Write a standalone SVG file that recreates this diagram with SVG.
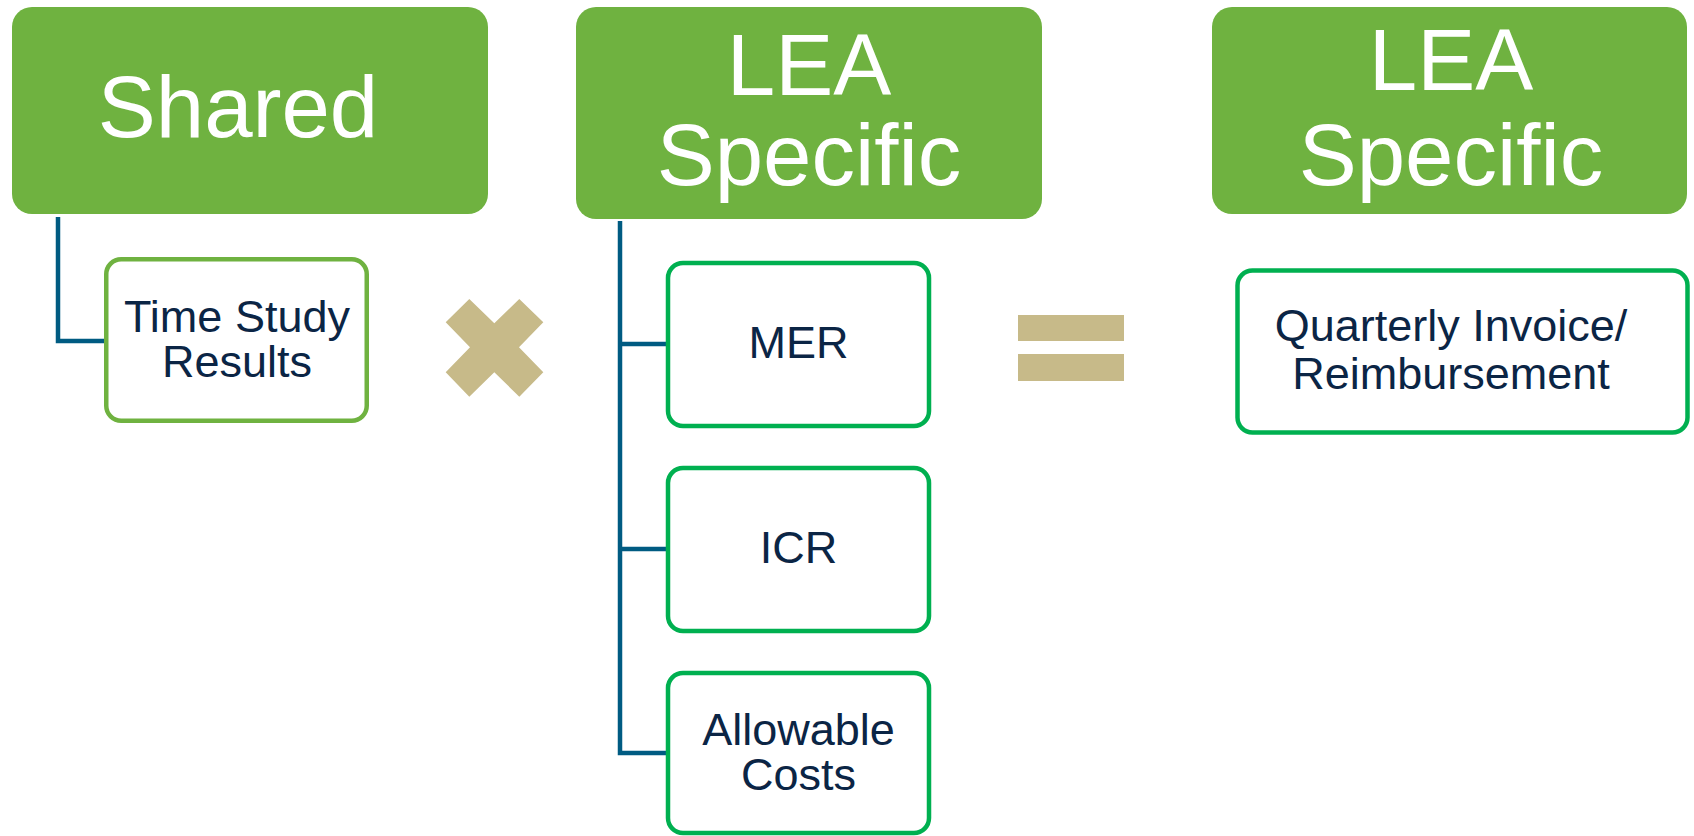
<svg xmlns="http://www.w3.org/2000/svg" width="1694" height="836" viewBox="0 0 1694 836">
  <style>
    .head { fill: #6FB240; }
    .head-text { fill: #FFFFFF; font-family: "Liberation Sans", Arial, sans-serif; font-size: 87px; text-anchor: middle; }
    .item { fill: #FFFFFF; stroke: #00B050; stroke-width: 4.5; }
    .item.light { stroke: #6FB240; }
    .item-text { fill: #0B2545; font-family: "Liberation Sans", Arial, sans-serif; font-size: 45px; text-anchor: middle; }
    .link { fill: none; stroke: #005B82; stroke-width: 4.5; stroke-linejoin: miter; }
    .op { fill: #C7BA89; }
  </style>

  <!-- tree connectors -->
  <g id="connectors">
    <path class="link" d="M58 217 V341 H106"/>
    <path class="link" d="M620 221 V753 H668"/>
    <path class="link" d="M620 344 H668"/>
    <path class="link" d="M620 549 H668"/>
  </g>

  <!-- column 1 -->
  <g id="shared">
    <rect class="head" x="12" y="7" width="476" height="207" rx="20"/>
    <text class="head-text" x="238" y="137" font-size="86">Shared</text>
  </g>
  <g id="time-study">
    <rect class="item light" x="106.25" y="259.25" width="260.5" height="161.5" rx="15"/>
    <text class="item-text" x="237" y="332">Time Study</text>
    <text class="item-text" x="237" y="377">Results</text>
  </g>

  <!-- multiply sign -->
  <g id="times">
    <polygon class="op" points="445.7,322.3 469.3,299 494.3,323.3 519.3,299 543.3,322.3 519,347.3 543.3,372.3 519.3,396.7 494.3,372.3 469.3,396.7 445.7,372.3 470,347.3"/>
  </g>

  <!-- column 2 -->
  <g id="lea-specific">
    <rect class="head" x="576" y="7" width="466" height="212" rx="20"/>
    <text class="head-text" x="809" y="95">LEA</text>
    <text class="head-text" x="809" y="185">Specific</text>
  </g>
  <g id="mer">
    <rect class="item" x="668" y="263" width="261" height="163" rx="15"/>
    <text class="item-text" x="798.5" y="358">MER</text>
  </g>
  <g id="icr">
    <rect class="item" x="668" y="468" width="261" height="163" rx="15"/>
    <text class="item-text" x="798.5" y="563">ICR</text>
  </g>
  <g id="allowable-costs">
    <rect class="item" x="668" y="673" width="261" height="160" rx="15"/>
    <text class="item-text" x="798.5" y="745">Allowable</text>
    <text class="item-text" x="798.5" y="790">Costs</text>
  </g>

  <!-- equals sign -->
  <g id="equals">
    <rect class="op" x="1018" y="315" width="106" height="26"/>
    <rect class="op" x="1018" y="354" width="106" height="27"/>
  </g>

  <!-- column 3 -->
  <g id="lea-specific-result">
    <rect class="head" x="1212" y="7" width="475" height="207" rx="20"/>
    <text class="head-text" x="1451" y="90">LEA</text>
    <text class="head-text" x="1451" y="185">Specific</text>
  </g>
  <g id="quarterly-invoice">
    <rect class="item" x="1237.5" y="270.5" width="450" height="162" rx="15"/>
    <text class="item-text" x="1451" y="341">Quarterly Invoice/</text>
    <text class="item-text" x="1451" y="389">Reimbursement</text>
  </g>
</svg>
